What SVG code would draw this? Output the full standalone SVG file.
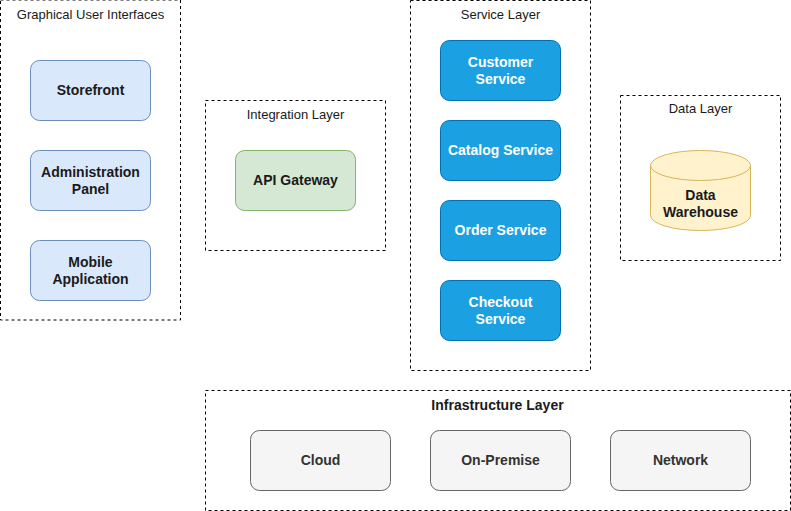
<svg xmlns="http://www.w3.org/2000/svg" width="791" height="511" viewBox="0 0 791 511">
<style>
text{font-family:"Liberation Sans",Arial,sans-serif;font-size:13px;text-anchor:middle;fill:#1a1a1a}
.c{fill:none;stroke:#000;stroke-width:1;stroke-dasharray:3 3}
.b{font-weight:bold;font-size:14px}
.gui{fill:#dae8fc;stroke:#6c8ebf}
.api{fill:#d5e8d4;stroke:#82b366}
.svc{fill:#1ba1e2;stroke:#006eaf}
.svt{fill:#ffffff;font-weight:bold;font-size:14px}
.inf{fill:#f5f5f5;stroke:#666666}
.inft{fill:#333333}
.db{fill:#fff2cc;stroke:#d6b656}
</style>
<rect width="791" height="511" fill="#ffffff"/>
<g id="containers">
<g id="gui-layer"><rect class="c" x="0.5" y="0" width="180" height="320"/><text x="90.5" y="18.5">Graphical User Interfaces</text></g>
<g id="integration-layer"><rect class="c" x="205.5" y="100.5" width="180" height="150"/><text x="295.5" y="118.5">Integration Layer</text></g>
<g id="service-layer"><rect class="c" x="410.5" y="0.5" width="180" height="370"/><text x="500.5" y="18.5">Service Layer</text></g>
<g id="data-layer"><rect class="c" x="620.5" y="95.5" width="160" height="165"/><text x="700.5" y="112.5">Data Layer</text></g>
<g id="infrastructure-layer"><rect class="c" x="205.5" y="390.5" width="585" height="120"/><text class="b" x="497.5" y="410">Infrastructure Layer</text></g>
</g>
<g id="storefront"><rect class="gui" x="30.5" y="60.5" width="120" height="60" rx="9"/><text class="b" x="90.5" y="95">Storefront</text></g>
<g id="admin-panel"><rect class="gui" x="30.5" y="150.5" width="120" height="60" rx="9"/><text class="b" x="90.5" y="177">Administration</text><text class="b" x="90.5" y="194">Panel</text></g>
<g id="mobile-app"><rect class="gui" x="30.5" y="240.5" width="120" height="60" rx="9"/><text class="b" x="90.5" y="267">Mobile</text><text class="b" x="90.5" y="284">Application</text></g>
<g id="api-gateway"><rect class="api" x="235.5" y="150.5" width="120" height="60" rx="9"/><text class="b" x="295.5" y="185">API Gateway</text></g>
<g id="customer-service"><rect class="svc" x="440.5" y="40.5" width="120" height="60" rx="9"/><text class="svt" x="500.5" y="67">Customer</text><text class="svt" x="500.5" y="84">Service</text></g>
<g id="catalog-service"><rect class="svc" x="440.5" y="120.5" width="120" height="60" rx="9"/><text class="svt" x="500.5" y="155">Catalog Service</text></g>
<g id="order-service"><rect class="svc" x="440.5" y="200.5" width="120" height="60" rx="9"/><text class="svt" x="500.5" y="235">Order Service</text></g>
<g id="checkout-service"><rect class="svc" x="440.5" y="280.5" width="120" height="60" rx="9"/><text class="svt" x="500.5" y="307">Checkout</text><text class="svt" x="500.5" y="324">Service</text></g>
<g id="data-warehouse">
<path class="db" d="M650.5,165.5 A50,15 0 0 1 750.5,165.5 L750.5,215.5 A50,15 0 0 1 650.5,215.5 Z"/>
<path class="db" fill="none" d="M650.5,165.5 A50,15 0 0 0 750.5,165.5"/>
<text class="b" x="700.5" y="200">Data</text><text class="b" x="700.5" y="217">Warehouse</text>
</g>
<g id="cloud"><rect class="inf" x="250.5" y="430.5" width="140" height="60" rx="9"/><text class="b inft" x="320.5" y="465">Cloud</text></g>
<g id="on-premise"><rect class="inf" x="430.5" y="430.5" width="140" height="60" rx="9"/><text class="b inft" x="500.5" y="465">On-Premise</text></g>
<g id="network"><rect class="inf" x="610.5" y="430.5" width="140" height="60" rx="9"/><text class="b inft" x="680.5" y="465">Network</text></g>
<g id="connectors"></g>
</svg>
